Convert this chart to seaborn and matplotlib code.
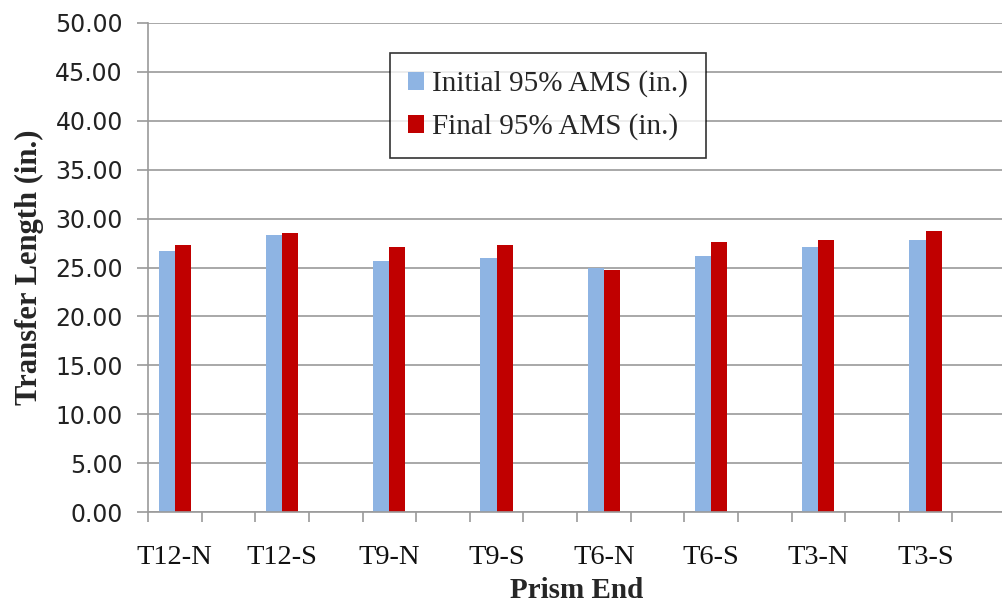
import pandas as pd
import numpy as np
import matplotlib.pyplot as plt
import seaborn as sns

# data
prism_ends = ["T12-N", "T12-S", "T9-N", "T9-S", "T6-N", "T6-S", "T3-N", "T3-S"]
initial_ams = [26.7, 28.3, 25.65, 26.0, 25.0, 26.2, 27.1, 27.8]
final_ams = [27.3, 28.5, 27.1, 27.3, 24.7, 27.6, 27.8, 28.7]
series_names = ["Initial 95% AMS (in.)", "Final 95% AMS (in.)"]
y_ticks = [0, 5, 10, 15, 20, 25, 30, 35, 40, 45, 50]

sns.set_theme(style="white")
plt.rcParams['font.family'] = ['Liberation Serif', 'DejaVu Serif']

df = pd.DataFrame({
    "Prism End": prism_ends * 2,
    "Value": initial_ams + final_ams,
    "Series": [series_names[0]] * len(prism_ends) + [series_names[1]] * len(prism_ends),
})

fig = plt.figure(figsize=(10.03, 6.08), dpi=100)
ax = fig.add_axes([148 / 1003, 1 - 512 / 608, 858 / 1003, 489 / 608])

sns.barplot(data=df, x="Prism End", y="Value", hue="Series", order=prism_ends,
            hue_order=series_names, palette=["#8EB4E3", "#C00000"], width=0.3,
            saturation=1, linewidth=0, ax=ax)

ax.set_xlim(-0.25, len(prism_ends) - 0.25)
ax.set_ylim(0, 50)
ax.set_yticks(y_ticks)
ax.set_yticklabels([f"{v:.2f}" for v in y_ticks], family="DejaVu Sans", fontsize=17, color="#222222")
ax.yaxis.grid(True, color="#9a9a9a", lw=1.2)
ax.set_axisbelow(True)

# tick marks at slot boundaries, labels at category centres
ax.set_xticks(np.arange(len(prism_ends)))
ax.set_xticklabels(prism_ends, fontsize=20.5, color="#111111")
ax.set_xticks(np.arange(-0.25, len(prism_ends), 0.5), minor=True)
ax.tick_params(axis="x", which="major", length=0, pad=24)
ax.tick_params(axis="x", which="minor", length=7, width=1.2, color="#9a9a9a", bottom=True)
ax.tick_params(axis="y", length=8, width=1.2, color="#9a9a9a", pad=10, left=True)

for side in ["top", "right"]:
    ax.spines[side].set_visible(False)
for side in ["left", "bottom"]:
    ax.spines[side].set_color("#9a9a9a")
    ax.spines[side].set_linewidth(1.2)

ax.set_xlabel("Prism End", fontsize=21, fontweight="bold", labelpad=5)
ax.set_ylabel("Transfer Length (in.)", fontsize=22, fontweight="bold", labelpad=8)

leg = ax.legend(loc="upper left", bbox_to_anchor=(390 / 1003, 1 - 53 / 608),
                bbox_transform=fig.transFigure, fontsize=21, frameon=True, fancybox=False,
                edgecolor="black", handlelength=0.55, handleheight=0.55, handletextpad=0.3,
                borderpad=0.6, labelspacing=0.55, borderaxespad=0)
leg.get_frame().set_linewidth(1.2)

fig.savefig("out.png", dpi=100)
